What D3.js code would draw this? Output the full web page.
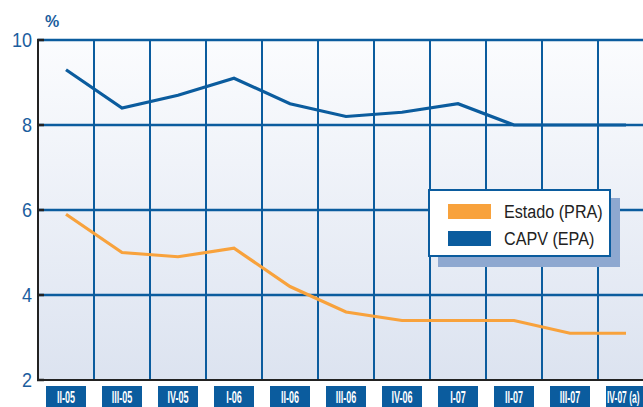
<!DOCTYPE html>
<html>
<head>
<meta charset="utf-8">
<script src="https://cdn.jsdelivr.net/npm/d3@7"></script>
<style>
  body { margin: 0; background: #fff; }
  svg { display: block; }
</style>
</head>
<body>
<figure style="margin:0"></figure>
<script>
const quarters = ["II-05","III-05","IV-05","I-06","II-06","III-06","IV-06","I-07","II-07","III-07","IV-07 (a)"]
const estado = [5.9, 5.0, 4.9, 5.1, 4.2, 3.6, 3.4, 3.4, 3.4, 3.1, 3.1]
const capv = [9.3, 8.4, 8.7, 9.1, 8.5, 8.2, 8.3, 8.5, 8.0, 8.0, 8.0]
const yTicks = [2, 4, 6, 8, 10]
const seriesNames = ["Estado (PRA)", "CAPV (EPA)"]

const blue = "#0b5c9e", orange = "#f8a23c"

const svg = d3.select("figure").append("svg").attr("width", 643).attr("height", 407),
    margin = {top: 40, left: 38},
    x = d3.scaleBand().domain(quarters).range([margin.left, margin.left + 56 * quarters.length]),
    y = d3.scaleLinear().domain([2, 10]).range([380, 40])

// background gradient
const grad = svg.append("defs").append("linearGradient").attr("id", "bg").attr("x1", 0).attr("x2", 0).attr("y1", 0).attr("y2", 1)
grad.append("stop").attr("offset", "0%").attr("stop-color", "#fbfcfe")
grad.append("stop").attr("offset", "100%").attr("stop-color", "#dce3f0")

svg.append("rect")
    .attr("x", margin.left).attr("y", y(10))
    .attr("width", 643 - margin.left).attr("height", y(2) - y(10))
    .attr("fill", "url(#bg)")

// grid
svg.append("g").selectAll("line").data(yTicks.filter(d => d > 2)).enter().append("line")
    .attr("x1", margin.left).attr("x2", 643)
    .attr("y1", d => y(d)).attr("y2", d => y(d))
    .attr("stroke", blue).attr("stroke-width", 2.5)
svg.append("g").selectAll("line").data(quarters.slice(1)).enter().append("line")
    .attr("x1", d => x(d)).attr("x2", d => x(d))
    .attr("y1", y(10)).attr("y2", y(2))
    .attr("stroke", blue).attr("stroke-width", 2)

// axes lines
svg.append("line").attr("x1", margin.left).attr("x2", margin.left).attr("y1", y(10) - 1).attr("y2", y(2) + 1)
    .attr("stroke", "#222").attr("stroke-width", 2)
svg.append("line").attr("x1", margin.left - 1).attr("x2", 643).attr("y1", y(2)).attr("y2", y(2))
    .attr("stroke", "#222").attr("stroke-width", 2)
svg.append("g").selectAll("line").data(yTicks).enter().append("line")
    .attr("x1", margin.left - 1).attr("x2", margin.left + 6)
    .attr("y1", d => y(d)).attr("y2", d => y(d))
    .attr("stroke", "#222").attr("stroke-width", 2.5)

// y labels (slightly condensed)
svg.append("g").selectAll("text").data(yTicks).enter().append("text")
    .text(d => d)
    .attr("transform", d => `translate(32,${y(d)}) scale(0.9,1)`)
    .attr("text-anchor", "end").attr("dominant-baseline", "central")
    .attr("font-family", "Liberation Sans, Arial, sans-serif")
    .attr("font-size", 20).attr("fill", "#1b5e9e")

svg.append("text").text("%")
    .attr("x", 45).attr("y", 27)
    .attr("font-family", "Liberation Sans, Arial, sans-serif")
    .attr("font-weight", "bold").attr("font-size", 16).attr("fill", "#1b5e9e")

// lines
const line = d3.line().x((d, i) => x(quarters[i]) + x.bandwidth() / 2).y(d => y(d))
svg.append("path").datum(estado).attr("d", line)
    .attr("fill", "none").attr("stroke", orange).attr("stroke-width", 3.2)
svg.append("path").datum(capv).attr("d", line)
    .attr("fill", "none").attr("stroke", blue).attr("stroke-width", 3.2)

// category labels, white condensed text in blue boxes
const cat = svg.append("g").selectAll("g").data(quarters).enter().append("g")
    .attr("transform", d => `translate(${x(d) + x.bandwidth() / 2},0)`)
cat.append("rect")
    .attr("x", -20).attr("y", 386).attr("width", 40).attr("height", 24)
    .attr("fill", blue)
cat.append("text").text(d => d)
    .attr("transform", (d, i) => i == quarters.length - 1 ? "translate(-19,403) scale(0.5,1)" : "translate(0,403) scale(0.53,1)")
    .attr("text-anchor", (d, i) => i == quarters.length - 1 ? "start" : "middle")
    .attr("font-family", "Liberation Sans, Arial, sans-serif")
    .attr("font-weight", "bold").attr("font-size", 17).attr("fill", "#fff")

// legend
const legend = svg.append("g").attr("transform", "translate(429,190)")
legend.append("rect").attr("x", 9).attr("y", 8).attr("width", 182).attr("height", 69).attr("fill", "#8ea8d0")
legend.append("rect").attr("x", 0).attr("y", 0).attr("width", 181).attr("height", 66)
    .attr("fill", "#fff").attr("stroke", blue).attr("stroke-width", 2)
const items = legend.selectAll("g.item").data(seriesNames).enter().append("g").classed("item", true)
    .attr("transform", (d, i) => `translate(0,${21 + i * 27})`)
items.append("rect").attr("x", 19).attr("y", -7).attr("width", 43).attr("height", 15)
    .attr("fill", (d, i) => i == 0 ? orange : blue)
items.append("text").text(d => d)
    .attr("transform", "translate(75,1) scale(0.85,1)")
    .attr("dominant-baseline", "central")
    .attr("font-family", "Liberation Sans, Arial, sans-serif")
    .attr("font-size", 19).attr("fill", "#222")
</script>
</body>
</html>
